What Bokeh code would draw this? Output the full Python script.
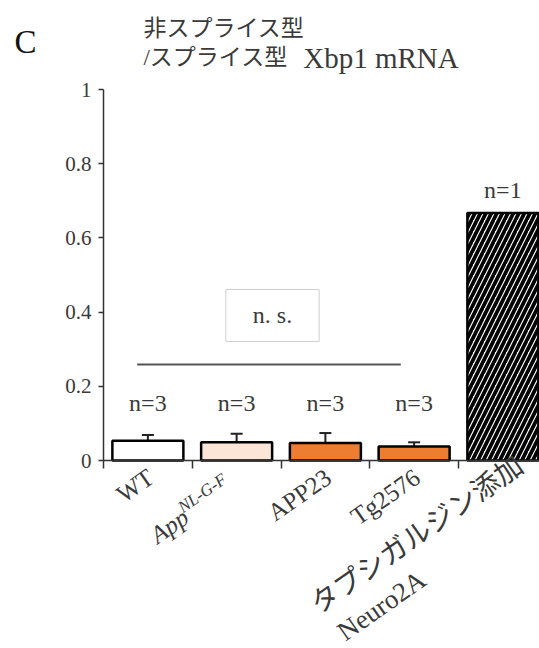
import math
from bokeh.plotting import figure
from bokeh.models import (Range1d, FixedTicker, Label, LabelSet, Whisker, TeeHead,
                          ColumnDataSource)
from bokeh.embed import file_html
from bokeh.resources import INLINE

# ---------------- data ----------------
categories = ["WT", "App", "APP23", "Tg2576", "タプシガルジン添加"]
category_sup = "NL-G-F"          # superscript of App
category_line2 = "Neuro2A"       # second line of last category
values = [0.053, 0.049, 0.047, 0.038, 0.667]
errors = [0.016, 0.023, 0.027, 0.011]          # only n=3 groups
n_labels = ["n=3", "n=3", "n=3", "n=3", "n=1"]
bar_colors = ["#FFFFFF", "#FBE5D6", "#ED7D31", "#ED7D31", "#FFFFFF"]
bar_hatch = [" ", " ", " ", " ", "/"]
y_ticks = [0, 0.2, 0.4, 0.6, 0.8, 1]
y_tick_labels = ["0", "0.2", "0.4", "0.6", "0.8", "1"]
title_line1 = "非スプライス型"
title_line2 = ["/スプライス型", "Xbp1 mRNA"]
panel_letter = "C"
ns_text = "n. s."

# ---------------- layout ----------------
W, H = 539, 648
OX, OY = 103.0, 460.0        # pixel position of data origin
PX_X, PX_Y = 88.75, 371.0    # pixels per data unit
x_start, x_end = -OX / PX_X, (W - OX) / PX_X
y_start, y_end = -(H - OY) / PX_Y, OY / PX_Y

SERIF = "Liberation Serif, Noto Sans CJK JP"
CJK = "Noto Sans CJK JP"
TXT = "#3a3a3a"
AX = "#333333"

p = figure(width=W, height=H, x_range=Range1d(x_start, x_end),
           y_range=Range1d(y_start, y_end),
           output_backend="svg", toolbar_location=None,
           min_border_left=0, min_border_right=0, min_border_top=0,
           min_border_bottom=0)
p.grid.visible = False
p.outline_line_color = None
p.background_fill_color = "white"

centers = [i + 0.5 for i in range(len(categories))]

src = ColumnDataSource(dict(x=centers, top=values, color=bar_colors, hatch=bar_hatch))
p.vbar(x="x", top="top", width=0.8, source=src, fill_color="color",
       line_color="black", line_width=2.5, hatch_pattern="hatch",
       hatch_color="black", hatch_weight=3.8, hatch_scale=11)

esrc = ColumnDataSource(dict(x=centers[:len(errors)], base=values[:len(errors)],
                             upper=[v + e for v, e in zip(values, errors)]))
p.add_layout(Whisker(source=esrc, base="x", lower="base", upper="upper",
                     line_color="#222222", line_width=2,
                     upper_head=TeeHead(size=12, line_color="#222222", line_width=2),
                     lower_head=None))

# axes (drawn at the data origin)
xa = p.xaxis[0]
xa.fixed_location = 0
xa.bounds = (0, len(categories))
xa.ticker = FixedTicker(ticks=[], minor_ticks=list(range(len(categories) + 1)))
xa.major_tick_out = 0
xa.major_tick_in = 0
xa.minor_tick_out = 8
xa.minor_tick_in = 0
xa.axis_line_width = 1.5
xa.axis_line_color = AX
xa.minor_tick_line_color = AX
xa.minor_tick_line_width = 1.5

ya = p.yaxis[0]
ya.fixed_location = 0
ya.bounds = (0, 1)
ya.ticker = FixedTicker(ticks=y_ticks)
ya.major_label_overrides = dict(zip(y_ticks, y_tick_labels))
ya.major_tick_out = 5
ya.major_tick_in = 0
ya.minor_tick_out = 0
ya.minor_tick_in = 0
ya.axis_line_width = 1.5
ya.axis_line_color = AX
ya.major_tick_line_color = AX
ya.major_tick_line_width = 1.5
ya.major_label_standoff = 7
ya.major_label_text_font = "Liberation Serif"
ya.major_label_text_font_size = "21px"
ya.major_label_text_color = TXT

# n= labels
n_y = [0.155] * 4 + [0.73]
p.add_layout(LabelSet(source=ColumnDataSource(dict(x=centers, y=n_y, t=n_labels)),
                      x="x", y="y", text="t", text_align="center",
                      text_baseline="middle", text_font=SERIF,
                      text_font_size="24px", text_color=TXT))

# n.s. bracket
p.segment(x0=[0.38], y0=[0.259], x1=[3.35], y1=[0.259], line_color="#555555",
          line_width=2)
p.add_layout(Label(x=1.904, y=0.391, text=ns_text, text_align="center",
                   text_baseline="middle", text_font=SERIF, text_font_size="24px",
                   text_color=TXT, border_line_color="#cfcfcf", border_line_width=1,
                   background_fill_color="white", padding=(27, 13)))

# title
p.add_layout(Label(x=-0.88, y=1.127, text=panel_letter, text_align="center",
                   text_baseline="middle", text_font="Liberation Serif",
                   text_font_size="33px", text_color="#111111"))
p.add_layout(Label(x=0.45, y=1.172, text=title_line1, text_align="left",
                   text_baseline="middle", text_font=CJK, text_font_size="23px",
                   text_color=TXT))
p.add_layout(Label(x=0.45, y=1.086, text=title_line2[0], text_align="left",
                   text_baseline="middle", text_font=SERIF, text_font_size="23px",
                   text_color=TXT))
p.add_layout(Label(x=2.25, y=1.086, text=title_line2[1], text_align="left",
                   text_baseline="middle", text_font=SERIF, text_font_size="29px",
                   text_color=TXT))

# rotated category labels
ANG = 35.0
ca, sa = math.cos(math.radians(ANG)), math.sin(math.radians(ANG))
u = (ca, -sa)
d = (sa, ca)


def place(cx, bx, by, along=0.0, perp=0.0):
    sx = bx + u[0] * along + d[0] * perp
    sy = by + u[1] * along + d[1] * perp
    return cx + sx / PX_X, -sy / PX_Y


def add_lab(txt, xy, align, font, size, style="normal"):
    p.add_layout(Label(x=xy[0], y=xy[1], text=txt, angle=ANG, angle_units="deg",
                       text_align=align, text_baseline="alphabetic", text_font=font,
                       text_font_size=size, text_font_style=style, text_color=TXT))


CJK_SIZE = 28
for i, cat in enumerate(categories):
    cx = centers[i]
    if i == 1:
        add_lab(category_sup, place(cx, -12, 17), "right", SERIF, "17px", "italic")
        add_lab(cat, place(cx, -12, 17, along=-53, perp=8), "right", SERIF, "25px",
                "italic")
    elif i == len(categories) - 1:
        add_lab(cat, place(cx, 16, 0), "right", CJK, f"{CJK_SIZE}px")
        add_lab(category_line2,
                place(cx, 16, 0, along=-(len(cat) * CJK_SIZE - 6), perp=40),
                "left", SERIF, "27px")
    else:
        add_lab(cat, place(cx, 3, 14), "right", SERIF, "25px")

open("out.html", "w").write(file_html(p, INLINE))
